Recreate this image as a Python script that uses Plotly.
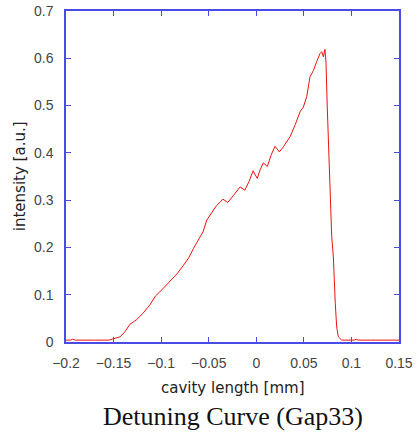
import plotly.graph_objects as go

cavity_length = [-0.2, -0.195, -0.193, -0.19, -0.17, -0.155, -0.15, -0.143, -0.138, -0.133,
                 -0.126, -0.119, -0.112, -0.106, -0.098, -0.089, -0.083, -0.077, -0.071, -0.066,
                 -0.061, -0.056, -0.052, -0.047, -0.042, -0.035, -0.030, -0.024, -0.017, -0.012,
                 -0.0075, -0.0034, 0.001, 0.004, 0.0074, 0.0116, 0.0155, 0.0197, 0.0243, 0.0285,
                 0.033, 0.0355, 0.041, 0.046, 0.0495, 0.053, 0.0565, 0.06, 0.0635, 0.067,
                 0.0688, 0.0705, 0.0722, 0.0733, 0.0746, 0.0757, 0.0764, 0.0775, 0.0793, 0.081,
                 0.082, 0.083, 0.0845, 0.0862, 0.0898, 0.1, 0.103, 0.105, 0.107, 0.12, 0.15]
intensity = [0.004, 0.004, 0.006, 0.004, 0.004, 0.004, 0.007, 0.011, 0.022, 0.037,
             0.047, 0.061, 0.078, 0.097, 0.113, 0.131, 0.145, 0.161, 0.178, 0.198,
             0.215, 0.233, 0.258, 0.272, 0.288, 0.302, 0.295, 0.31, 0.328, 0.321,
             0.34, 0.362, 0.346, 0.364, 0.379, 0.371, 0.395, 0.414, 0.402, 0.413,
             0.427, 0.434, 0.46, 0.487, 0.497, 0.519, 0.561, 0.574, 0.593, 0.610,
             0.614, 0.603, 0.619, 0.590, 0.497, 0.434, 0.364, 0.297, 0.223, 0.180,
             0.124, 0.082, 0.032, 0.011, 0.004, 0.004, 0.004, 0.006, 0.004, 0.004, 0.004]

title_text = "Detuning Curve (Gap33)"
x_title = "cavity length [mm]"
y_title = "intensity [a.u.]"

axis_blue = "#4a4ae6"
tick_font = dict(family="Liberation Sans, Arial, sans-serif", size=14, color="#444444")
label_font = dict(family="DejaVu Sans, sans-serif", size=15, color="#222222")

fig = go.Figure()
fig.add_trace(go.Scatter(x=cavity_length, y=intensity, mode="lines",
                         line=dict(color="#ee1111", width=1), showlegend=False))

common = dict(showgrid=False, zeroline=False, showline=True, linecolor=axis_blue, linewidth=1.5,
              ticks="inside", tickcolor=axis_blue, ticklen=5, tickwidth=1.2, mirror="ticks",
              tickfont=tick_font, automargin=False)

fig.update_xaxes(range=[-0.2, 0.15], dtick=0.05, tick0=-0.2, ticklabelstandoff=7, **common)
fig.update_yaxes(range=[0, 0.7], dtick=0.1, tick0=0, ticklabelstandoff=8, **common)

fig.add_annotation(text=x_title, xref="paper", yref="paper", x=0.5, y=-0.138,
                   yanchor="middle", showarrow=False, font=label_font)
fig.add_annotation(text=y_title, xref="paper", yref="paper", x=-0.139, y=0.5,
                   xanchor="center", yanchor="middle", textangle=-90, showarrow=False, font=label_font)
fig.add_annotation(text=title_text, xref="paper", yref="paper", x=0.5, y=-0.226,
                   yanchor="middle", showarrow=False,
                   font=dict(family="Liberation Serif, Times New Roman, serif", size=26, color="#111111"))

fig.update_layout(width=416, height=434, margin=dict(l=66, r=17, t=11, b=92),
                  plot_bgcolor="white", paper_bgcolor="white")

fig.write_html("out.html")
